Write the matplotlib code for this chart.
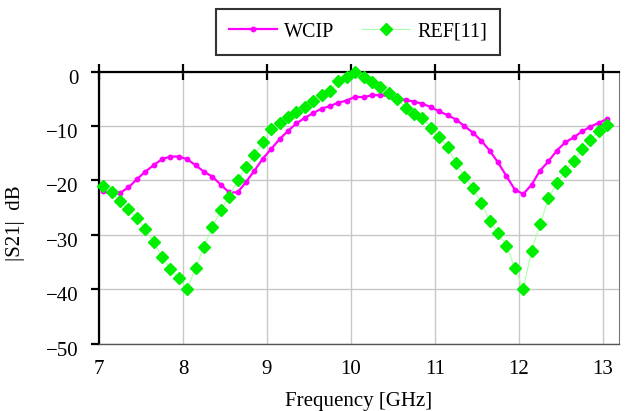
import matplotlib
matplotlib.use("Agg")
import matplotlib.pyplot as plt
import matplotlib.transforms as mtransforms
import numpy as np

plt.rcParams['font.family'] = ['Liberation Serif', 'DejaVu Serif']

freq = [7.05, 7.15, 7.25, 7.35, 7.45, 7.55, 7.65, 7.75, 7.85, 7.95,
        8.05, 8.15, 8.25, 8.35, 8.45, 8.55, 8.65, 8.75, 8.85, 8.95,
        9.05, 9.15, 9.25, 9.35, 9.45, 9.55, 9.65, 9.75, 9.85, 9.95,
        10.05, 10.15, 10.25, 10.35, 10.45, 10.55, 10.65, 10.75, 10.85, 10.95,
        11.05, 11.15, 11.25, 11.35, 11.45, 11.55, 11.65, 11.75, 11.85, 11.95,
        12.05, 12.15, 12.25, 12.35, 12.45, 12.55, 12.65, 12.75, 12.85, 12.95,
        13.05]

wcip = [-22.0, -22.5, -22.3, -21.3, -19.8, -18.4, -17.2, -16.1, -15.6, -15.6,
        -16.1, -17.2, -18.4, -19.3, -20.8, -22.2, -22.2, -20.3, -18.2, -16.0,
        -14.2, -12.4, -10.9, -9.5, -8.5, -7.6, -6.8, -6.3, -5.7, -5.3,
        -4.6, -4.7, -4.3, -4.3, -4.5, -4.9, -5.2, -5.5, -5.9, -6.5,
        -7.3, -8.0, -8.8, -10.0, -11.2, -12.7, -14.5, -16.7, -19.2, -21.7,
        -22.5, -20.8, -18.2, -16.5, -14.5, -13.0, -12.1, -11.0, -10.1, -9.4,
        -8.7]

ref11 = [-21.1, -22.2, -23.7, -25.2, -26.9, -28.9, -31.4, -34.0, -36.3, -38.0,
         -40.0, -36.1, -32.2, -28.5, -25.5, -23.0, -20.0, -17.5, -15.3, -13.0,
         -10.5, -9.5, -8.4, -7.5, -6.5, -5.4, -4.3, -3.5, -1.8, -1.0,
         0.0, -1.0, -1.9, -2.9, -4.0, -5.1, -6.6, -7.7, -8.5, -10.3,
         -12.1, -13.9, -16.8, -19.3, -21.4, -24.1, -27.4, -29.6, -32.0, -36.1,
         -40.0, -32.9, -28.1, -23.3, -20.5, -18.3, -16.4, -14.3, -12.6, -10.9,
         -9.8]

xticks = [7, 8, 9, 10, 11, 12, 13]
yticks = [0, -10, -20, -30, -40, -50]

fig = plt.figure(figsize=(6.28, 4.11), dpi=100)
ax = fig.add_axes([99/628, 1-343.5/411, 520/628, (343.5-71.7)/411])

ax.plot(freq, wcip, color='#ff00ff', lw=1.6, marker='o', ms=3.2,
        mec='#ff00ff', mfc='#ff00ff', label='WCIP', zorder=3, clip_on=False)
ax.plot(freq, ref11, color='#aaffaa', lw=0.8, marker='D', ms=6,
        mec='#00ee00', mfc='#00ee00', label='REF[11]', zorder=4, clip_on=False)

ax.set_xlim(7, 13.19)
ax.set_ylim(-50, 0)
ax.set_xticks(xticks)
ax.set_yticks(yticks)
ax.grid(True, color='#c8c8c8', lw=1.0, zorder=0)
ax.set_axisbelow(True)

for s in ['top', 'left']:
    ax.spines[s].set_color('black')
    ax.spines[s].set_linewidth(1.6)
ax.spines['bottom'].set_color('#555555')
ax.spines['bottom'].set_linewidth(1.0)
ax.spines['right'].set_color('#777777')
ax.spines['right'].set_linewidth(0.8)

ax.tick_params(axis='x', bottom=False, top=True, labelbottom=True, labeltop=False,
               direction='inout', length=12, width=1.6, labelsize=15, pad=6)
ax.tick_params(axis='y', left=True, direction='out', length=6, width=1.6,
               labelsize=15, pad=9)

# y tick labels sit slightly below their ticks in the reference
offset = mtransforms.ScaledTranslation(0, -5/100, fig.dpi_scale_trans)
for lab in ax.get_yticklabels():
    lab.set_transform(lab.get_transform() + offset)

ax.set_xlabel('Frequency [GHz]', fontsize=15, labelpad=9)
ax.set_ylabel('|S21|  dB', fontsize=15)
ax.yaxis.set_label_coords(-0.142, 0.443)

leg = fig.legend(loc='center', bbox_to_anchor=(358/628, 1-32/411), ncol=2,
                 fontsize=14.5, frameon=True, fancybox=False, handlelength=2.4,
                 handletextpad=0.35, columnspacing=1.35, borderpad=0.65)
leg.get_frame().set_edgecolor('black')
leg.get_frame().set_linewidth(1.5)

fig.savefig('out.png', dpi=100, facecolor='white')
